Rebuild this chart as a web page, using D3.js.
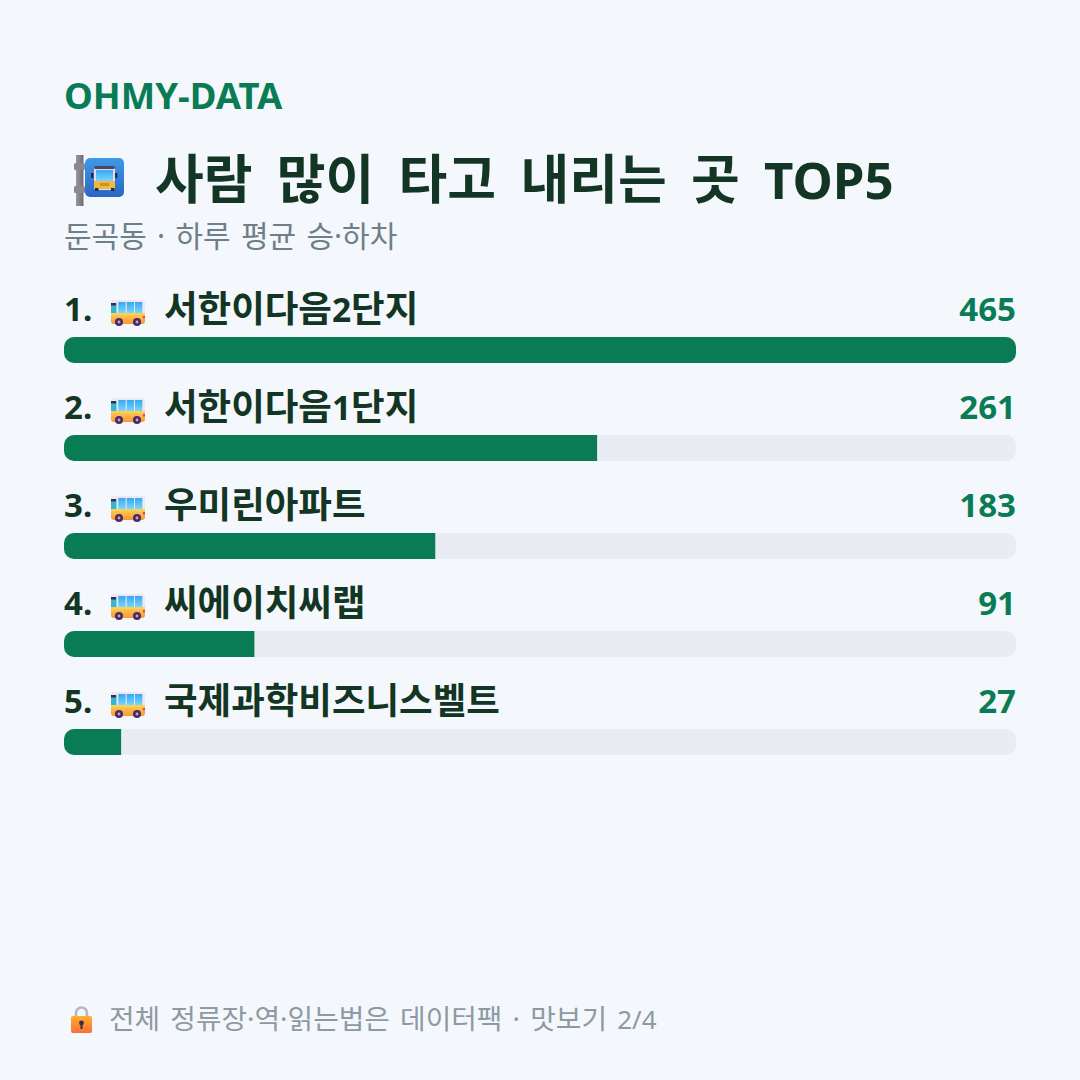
<!DOCTYPE html>
<html lang="ko">
<head>
<meta charset="utf-8">
<script src="https://cdnjs.cloudflare.com/ajax/libs/d3/7.9.0/d3.min.js"></script>
<style>
html,body{margin:0;padding:0;background:#f4f7fb}
svg{display:block}
text{font-family:"Noto Sans","Noto Sans CJK KR",sans-serif}
</style>
</head>
<body>
<div id="chart"></div>
<script>
// Bus stops with the most daily boardings and alightings
const stopNames = ["서한이다음2단지","서한이다음1단지","우미린아파트","씨에이치씨랩","국제과학비즈니스벨트"];
const stopValues = [465,261,183,91,27];
const brand = "OHMY-DATA";
const headline = "사람 많이 타고 내리는 곳 TOP5";
const subline = "둔곡동 · 하루 평균 승·하차";
const footnote = "전체 정류장·역·읽는법은 데이터팩 · 맛보기 2/4";

const W = 1080, H = 1080;
const GREEN = "#0a7c55", DARK = "#123524", TRACK = "#e9edf3";

const svg = d3.select("#chart").append("svg").attr("width",W).attr("height",H);
svg.append("rect").attr("width",W).attr("height",H).attr("fill","#f4f7fb");

const defs = svg.append("defs");
function grad(id,stops,x2=0,y2=1){
  const g = defs.append("linearGradient").attr("id",id).attr("x1",0).attr("y1",0).attr("x2",x2).attr("y2",y2);
  stops.forEach((c,i)=>g.append("stop").attr("offset",i/(stops.length-1)).attr("stop-color",c));
}
grad("signBlue",["#3f9ae8","#2a66c4"]);
grad("pole",["#9a97a0","#6f6c76"],1,0);
grad("bodyY",["#ffc64a","#f8963a"]);
grad("win",["#35a8f2","#7ad6fc"]);
grad("lock",["#ffb02e","#f8703c"]);

// Bars are scaled in whole percent of the largest stop
const share = v => Math.round(v / d3.max(stopValues) * 100);
const x = d3.scaleLinear().domain([0,100]).range([0,952]);
const y = d3.scaleBand().domain(d3.range(stopNames.length)).range([288,778]);

// Writes a string as Hangul and Latin runs, each with its own size
function mixed(sel, str, krSize, enSize){
  sel.selectAll("tspan").data(str.match(/[\uac00-\ud7a3 ·]+|[^\uac00-\ud7a3 ·]+/g)).join("tspan")
    .attr("font-size", d => /[\uac00-\ud7a3]/.test(d) ? krSize : enSize)
    .text(d => d);
}

// Header block
svg.append("text").attr("x",64).attr("y",109).attr("font-size",36.5).attr("font-weight",700).attr("fill",GREEN).text(brand);
svg.append("text").attr("x",155).attr("y",199).attr("font-weight",700).attr("fill",DARK)
  .style("word-spacing","10.5px").style("white-space","pre").call(mixed,headline,53,51);
svg.append("text").attr("x",64).attr("y",247).attr("fill","#6f7f88")
  .style("word-spacing","2.5px").call(mixed,subline,30,28);

// Small side-view bus, drawn at the given origin
function bus(g){
  g.append("rect").attr("width",34).attr("height",23).attr("rx",2.5).attr("fill","#efe6f4");
  g.append("rect").attr("x",0).attr("y",13).attr("width",34).attr("height",3).attr("fill","#f6d25a");
  g.append("path").attr("d","M0 15H34V21a3 3 0 0 1-3 3H3a3 3 0 0 1-3-3Z").attr("fill","url(#bodyY)");
  g.selectAll(".w").data([7.3,15.7,24]).join("rect").attr("x",d=>d).attr("y",2).attr("width",7.3).attr("height",11).attr("fill","url(#win)");
  g.append("rect").attr("x",0).attr("y",3).attr("width",5.5).attr("height",10).attr("fill","#34b6d8");
  g.append("rect").attr("x",0).attr("y",3).attr("width",5).attr("height",2.5).attr("fill","#3a2f4a");
  g.append("rect").attr("x",32).attr("y",16).attr("width",2).attr("height",2.5).attr("fill","#e0407a");
  g.selectAll(".t").data([8,26]).join("circle").attr("cx",d=>d).attr("cy",22).attr("r",4).attr("fill","#4a2b63");
  g.selectAll(".h").data([8,26]).join("circle").attr("cx",d=>d).attr("cy",22).attr("r",1.4).attr("fill","#b9a8cc");
}

// Tracks clip the fills so only the left end of a fill looks rounded
defs.append("clipPath").attr("id","trackClip").append("rect").attr("y",49).attr("height",26).attr("rx",10).attr("width",x(100));

// One row per stop
const rows = svg.selectAll("g.row").data(stopNames).join("g").attr("class","row")
  .attr("transform",(d,i)=>`translate(64,${y(i)})`);
rows.append("text").attr("x",0).attr("y",33).attr("font-size",33).attr("font-weight",700).attr("fill",DARK).text((d,i)=>`${i+1}.`);
rows.append("g").attr("transform","translate(47,12)").each(function(){bus(d3.select(this));});
rows.append("text").attr("x",100).attr("y",34).attr("font-weight",700).attr("fill",DARK)
  .each(function(d){d3.select(this).call(mixed,d,36.5,33.5);});
rows.append("text").attr("x",952).attr("y",33).attr("text-anchor","end").attr("font-size",33).attr("font-weight",700).attr("fill",GREEN).text((d,i)=>stopValues[i]);
rows.append("rect").attr("y",49).attr("height",26).attr("rx",10).attr("width",x(100)).attr("fill",TRACK);
rows.append("rect").attr("y",49).attr("height",26).attr("width",(d,i)=>x(share(stopValues[i]))).attr("fill",GREEN).attr("clip-path","url(#trackClip)");

// Bus-stop sign beside the headline
const sign = svg.append("g").attr("transform","translate(74,155)");
sign.append("rect").attr("x",2).attr("y",0).attr("width",7.5).attr("height",51).attr("fill","url(#pole)");
sign.selectAll(".collar").data([8,31]).join("rect").attr("x",0).attr("y",d=>d).attr("width",11).attr("height",7).attr("rx",1.5).attr("fill","#8a8791");
sign.append("rect").attr("x",11).attr("y",3).attr("width",39).attr("height",39).attr("rx",5).attr("fill","url(#signBlue)");
sign.selectAll(".mirror").data([17,41]).join("rect").attr("x",d=>d).attr("y",18).attr("width",2.4).attr("height",5).attr("fill","#2b2a4a");
sign.append("rect").attr("x",20).attr("y",11).attr("width",21).attr("height",24).attr("rx",2.5).attr("fill","#e4dcec");
sign.append("rect").attr("x",20).attr("y",11).attr("width",21).attr("height",3).attr("rx",1.5).attr("fill","#4a4560");
sign.append("rect").attr("x",22).attr("y",15).attr("width",17).attr("height",11).attr("fill","url(#win)");
sign.append("rect").attr("x",20).attr("y",26).attr("width",21).attr("height",8).attr("fill","#f0b93a");
sign.append("rect").attr("x",26).attr("y",28).attr("width",9).attr("height",3).attr("fill","#c98f2c");
sign.selectAll(".wheel").data([21,37]).join("rect").attr("x",d=>d).attr("y",33).attr("width",3.5).attr("height",3).attr("fill","#2b2a4a");

// Footer with padlock
const lock = svg.append("g").attr("transform","translate(70,1006)");
lock.append("path").attr("d","M6 11V7a5.5 5.5 0 0 1 11 0V11").attr("fill","none").attr("stroke","#b9b4c4").attr("stroke-width",2.6);
lock.append("rect").attr("x",1).attr("y",10).attr("width",21).attr("height",17).attr("rx",2).attr("fill","url(#lock)");
lock.append("circle").attr("cx",11.5).attr("cy",17).attr("r",2.4).attr("fill","#3b2a4a");
lock.append("rect").attr("x",10.5).attr("y",17).attr("width",2).attr("height",6).attr("fill","#3b2a4a");
svg.append("text").attr("x",109).attr("y",1029).attr("fill","#8d9aa3")
  .style("word-spacing","3px").call(mixed,footnote,27.8,26);
</script>
</body>
</html>
